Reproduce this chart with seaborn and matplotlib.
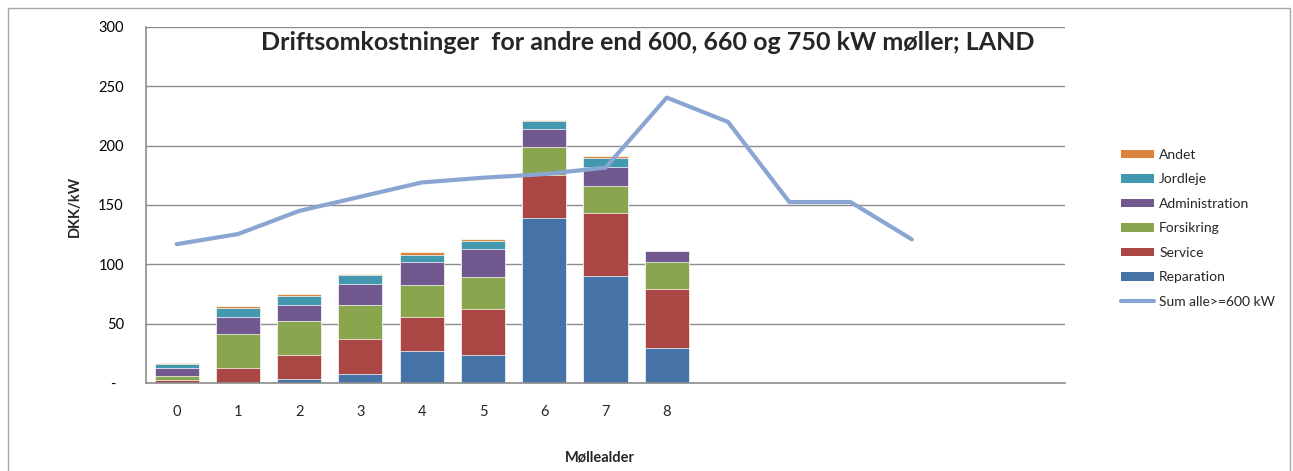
import matplotlib
matplotlib.use("Agg")
import matplotlib.pyplot as plt
from matplotlib.patches import Patch, Rectangle
from matplotlib.lines import Line2D
import numpy as np
import pandas as pd
import seaborn as sns

### data ###
ages = list(range(15))                      # x slots (only 0-8 have labels)
tick_labels = ["0", "1", "2", "3", "4", "5", "6", "7", "8"]
bar_ages = [0, 1, 2, 3, 4, 5, 6, 7, 8]

reparation     = [0.0, 0.0, 3.0, 8.0, 27.0, 24.0, 138.7, 89.8, 29.2]
service        = [2.8, 13.0, 21.0, 29.0, 28.5, 38.0, 36.7, 53.1, 49.7]
forsikring     = [3.2, 28.3, 28.2, 28.7, 27.0, 27.0, 23.6, 23.1, 23.3]
administration = [6.6, 14.0, 13.2, 17.5, 19.5, 24.0, 15.2, 16.3, 8.8]
jordleje       = [3.4, 8.2, 8.1, 7.8, 6.0, 6.5, 6.5, 7.6, 0.0]
andet          = [1.0, 1.1, 1.2, 1.0, 2.0, 2.0, 1.3, 1.1, 0.0]

line_ages = [0, 1, 2, 3, 4, 5, 6, 7, 8, 9, 10, 11, 12]
sum_alle = [117, 125.5, 145, 157, 169, 173, 176, 181.5, 240.5, 220, 152.5, 152.5, 121]

series_names = ["Reparation", "Service", "Forsikring", "Administration", "Jordleje", "Andet"]
series_vals = [reparation, service, forsikring, administration, jordleje, andet]
colors = ["#4572A7", "#AA4643", "#89A54E", "#71588F", "#4198AF", "#DB843D"]
line_color = "#8AA5D1"

df = pd.DataFrame({"age": bar_ages})
for name, vals in zip(series_names, series_vals):
    df[name] = vals
# cumulative tops for stacking (bottom -> top)
tops = df[series_names].cumsum(axis=1)

### plot ###
sns.set_style("white")
plt.rcParams["font.family"] = ["Lato", "DejaVu Sans"]

W, H = 1293, 471
fig = plt.figure(figsize=(W / 100, H / 100), dpi=100)
ax = fig.add_axes([146 / W, 1 - 383 / H, (1065 - 146) / W, (383 - 27) / H])

# draw tallest cumulative first, smaller ones on top
for name, c in reversed(list(zip(series_names, colors))):
    sns.barplot(x=df["age"], y=tops[name], order=ages, color=c, saturation=1,
                width=0.72, edgecolor="white", linewidth=0.5, errorbar=None, ax=ax)

sns.lineplot(x=line_ages, y=sum_alle, color=line_color, linewidth=3, ax=ax)

### format ###
grey = "#8c8c8c"
ax.set_xlim(-0.5, 14.5)
ax.set_ylim(0, 300)
ax.set_yticks(np.arange(0, 301, 50))
ax.set_yticklabels(["-  "] + [str(v) for v in range(50, 301, 50)], fontsize=10.5)
ax.yaxis.grid(True, color=grey, linewidth=1)
ax.set_axisbelow(True)

ax.set_xticks(np.arange(-0.5, 15, 1))
ax.set_xticklabels([])
ax.set_xticks(bar_ages, minor=True)
ax.set_xticklabels(tick_labels, minor=True, fontsize=10.5)
ax.tick_params(axis="x", which="major", length=5, color=grey, direction="out")
ax.tick_params(axis="x", which="minor", length=0, pad=16)
ax.tick_params(axis="y", length=6, color=grey, direction="out", pad=10)
ax.tick_params(axis="both", labelcolor="black")

for s in ["top", "right"]:
    ax.spines[s].set_visible(False)
for s in ["left", "bottom"]:
    ax.spines[s].set_color(grey)
    ax.spines[s].set_linewidth(1.2)

ax.set_xlabel("")
ax.set_ylabel("")
fig.text(75 / W, 1 - 206 / H, "DKK/kW", rotation=90, ha="center", va="center",
         fontsize=10.5, fontweight="bold")
fig.text(600 / W, 1 - 457 / H, "Møllealder", ha="center", va="center",
         fontsize=10.5, fontweight="bold")
fig.text(648 / W, 1 - 42 / H, "Driftsomkostninger  for andre end 600, 660 og 750 kW møller; LAND",
         ha="center", va="center", fontsize=18, fontweight="bold")

handles = [Patch(facecolor=c, edgecolor="none") for c in reversed(colors)]
labels = list(reversed(series_names))
handles.append(Line2D([0], [0], color=line_color, linewidth=3))
labels.append("Sum alle>=600 kW")
fig.legend(handles, labels, loc="upper left", bbox_to_anchor=(1114 / W, 1 - 142 / H),
           bbox_transform=fig.transFigure, frameon=False, fontsize=10, borderpad=0,
           handlelength=2.4, handleheight=0.6, handletextpad=0.35, labelspacing=0.9)

# chart area frame
fig.patches.append(Rectangle((8 / W, -0.05), (1290 - 8) / W, 1.05 - 8 / H,
                             transform=fig.transFigure, fill=False,
                             edgecolor="#a6a6a6", linewidth=1))

fig.savefig("out.png", dpi=100)
